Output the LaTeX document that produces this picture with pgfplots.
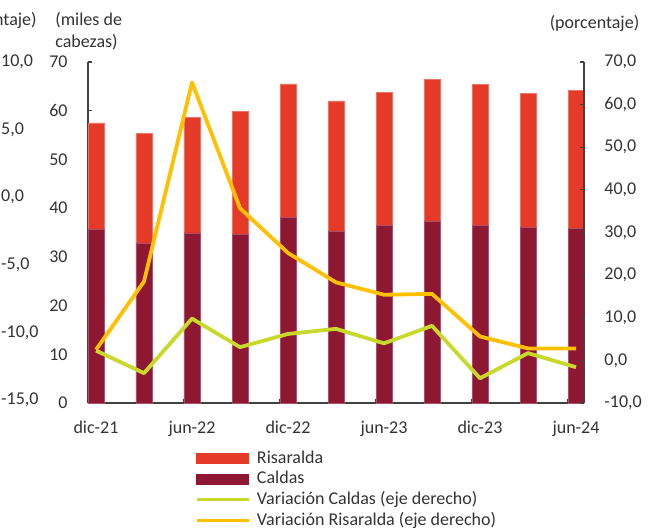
\documentclass[border=0pt]{standalone}
\usepackage{fontspec}
\setmainfont{Carlito}
\usepackage{pgfplots}
\pgfplotsset{compat=1.18}
\definecolor{risa}{HTML}{E53A28}
\definecolor{caldas}{HTML}{8E1734}
\definecolor{vcal}{HTML}{C9D92C}
\definecolor{vris}{HTML}{FFC000}
\definecolor{axc}{HTML}{404040}
\definecolor{txt}{HTML}{333333}
\begin{document}
\begin{tikzpicture}[font=\fontsize{9}{11}\selectfont, text=txt]
\useasboundingbox (-44pt,-64pt) rectangle (282.5pt,201.5pt);
\pgfplotsset{
  base/.style={scale only axis, width=248pt, height=170.5pt, at={(0pt,0pt)}, anchor=south west,
    xmin=-0.16667, xmax=10.16667, tick align=inside, major tick length=2pt,
    every tick/.style={axc, line width=0.6pt}, axis line style={axc, line width=0.75pt},
    /pgf/number format/assume math mode=true,
    tick label style={font=\fontsize{9}{11}\selectfont, text=txt}},
}
% far-left cropped axis labels (neighbouring chart, cut at the edge)
\begin{axis}[scale only axis, width=1pt, height=169pt, at={(-43.6pt,1.5pt)}, anchor=south west,
  xmin=0, xmax=1, ymin=-15, ymax=10, ytick={-15,-10,...,10}, hide x axis, axis y line*=left,
  y axis line style={draw=none}, major tick length=0pt,
  /pgf/number format/assume math mode=true,
  yticklabel style={anchor=west, inner sep=0pt, text=txt, font=\fontsize{9}{11}\selectfont},
  yticklabel={\pgfmathprintnumber[fixed,fixed zerofill,precision=1,use comma]{\tick}}]
\addplot[draw=none] coordinates {(0,0)};
\end{axis}
% bars
\begin{axis}[base, ybar stacked, bar width=8pt, ymin=0, ymax=70, ytick={0,10,...,70},
  axis x line*=bottom, axis y line*=left,
  xtick={1.8333,3.8333,5.8333,7.8333,9.8333}, xticklabels={},
  extra x ticks={0,2,4,6,8,10},
  extra x tick labels={dic-21,jun-22,dic-22,jun-23,dic-23,jun-24},
  extra x tick style={major tick length=0pt, xticklabel style={anchor=north, inner sep=0pt, yshift=-9pt}},
  yticklabel style={anchor=east, inner sep=0pt, xshift=-10pt}]
\addplot[fill=caldas, draw=caldas!75!white, line width=0.3pt] coordinates {(0,35.6) (1,32.8) (2,34.9) (3,34.6) (4,38.1) (5,35.2) (6,36.5) (7,37.3) (8,36.5) (9,36.0) (10,35.9)};
\addplot[fill=risa, draw=risa!70!white, line width=0.3pt] coordinates {(0,21.9) (1,22.6) (2,23.7) (3,25.3) (4,27.4) (5,26.8) (6,27.3) (7,29.1) (8,28.9) (9,27.6) (10,28.2)};
\end{axis}
% lines
\begin{axis}[base, ymin=-10, ymax=70, ytick={-10,0,...,70}, axis y line*=right, hide x axis,
  yticklabel style={anchor=west, inner sep=0pt, xshift=10pt},
  yticklabel={\pgfmathprintnumber[fixed,fixed zerofill,precision=1,use comma]{\tick}},
  legend cell align=left,
  legend style={at={(0.2157,-0.1308)}, anchor=north west, draw=none, fill=none, inner sep=0pt,
    row sep=0pt, column sep=3.5pt,
    nodes={inner sep=0pt, text=txt, font=\fontsize{9}{11}\selectfont, minimum height=10.35pt}}]
\addlegendimage{legend image code/.code={\fill[risa] (0pt,-2.5pt) rectangle (26pt,2.5pt);}}
\addlegendentry{Risaralda}
\addlegendimage{legend image code/.code={\fill[caldas] (0pt,-2.5pt) rectangle (26pt,2.5pt);}}
\addlegendentry{Caldas}
\addplot[vcal, line width=1.9pt, line join=round,
  legend image code/.code={\draw[vcal, line width=1.3pt] (0pt,0pt) -- (26pt,0pt);}]
  coordinates {(0,2.3) (1,-3.0) (2,9.8) (3,3.1) (4,6.2) (5,7.4) (6,4.0) (7,8.1) (8,-4.2) (9,1.7) (10,-1.6)};
\addlegendentry{Variación Caldas (eje derecho)}
\addplot[vris, line width=1.9pt, line join=round,
  legend image code/.code={\draw[vris, line width=1.3pt] (0pt,0pt) -- (26pt,0pt);}]
  coordinates {(0,2.5) (1,18.5) (2,65.2) (3,35.7) (4,25.2) (5,18.3) (6,15.4) (7,15.6) (8,5.6) (9,2.8) (10,2.8)};
\addlegendentry{Variación Risaralda (eje derecho)}
\end{axis}
\node[anchor=east, inner sep=0pt] at (-25.5pt,191.5pt) {ntaje)};
\node[anchor=west, align=left, inner sep=0pt] at (-16.5pt,186pt) {(miles de\\cabezas)};
\node[inner sep=0pt] at (253.25pt,190pt) {(porcentaje)};
\end{tikzpicture}
\end{document}
